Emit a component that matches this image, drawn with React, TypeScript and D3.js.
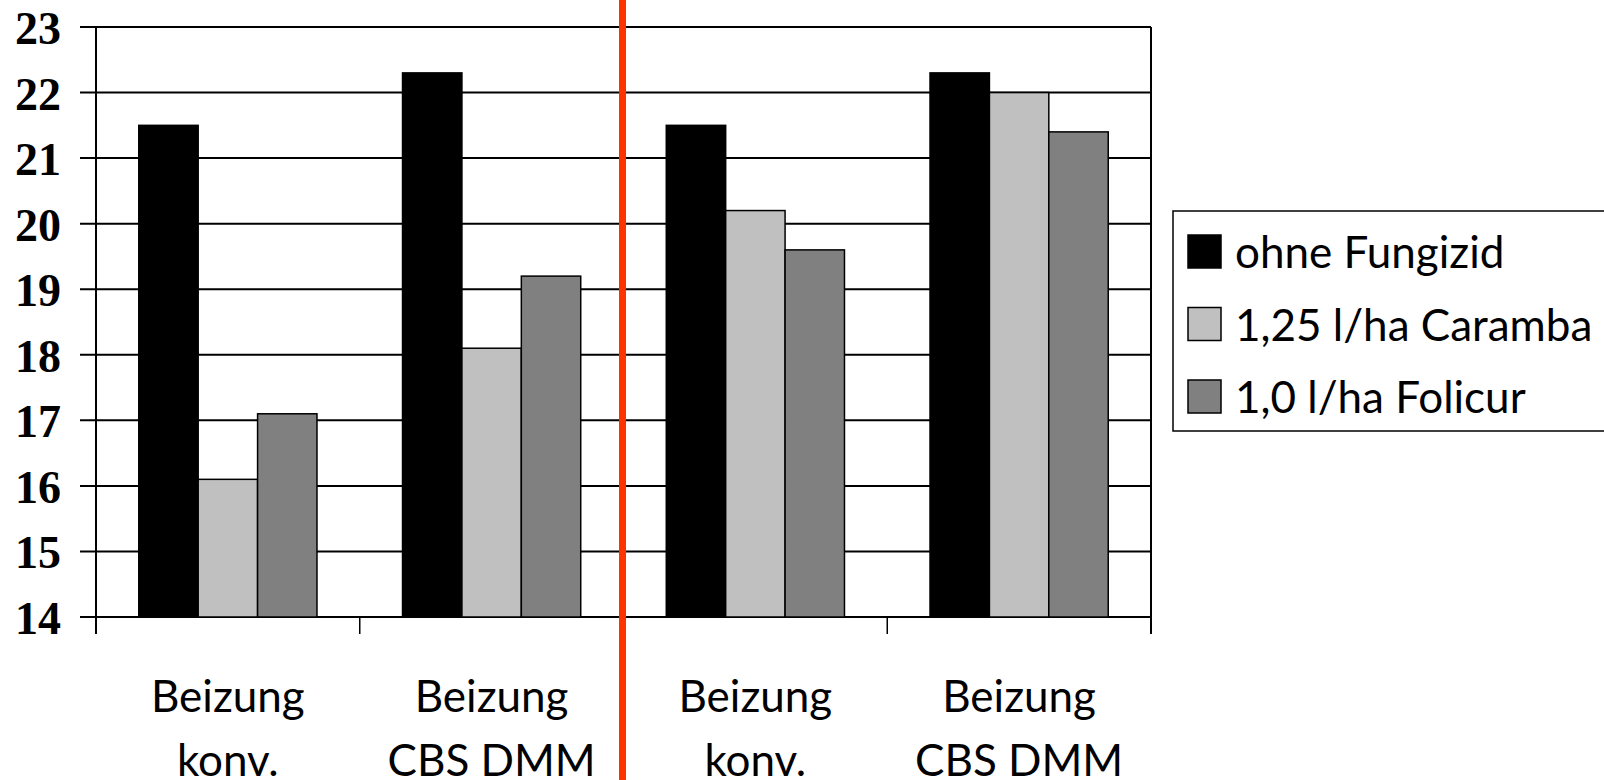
import React, { useEffect, useRef } from 'react'
import * as d3 from 'd3'

// categories, two text lines each
const groupLabels: string[][] = [
  ['Beizung', 'konv.'],
  ['Beizung', 'CBS DMM'],
  ['Beizung', 'konv.'],
  ['Beizung', 'CBS DMM'],
]
const seriesNames = ['ohne Fungizid', '1,25 l/ha Caramba', '1,0 l/ha Folicur']
const seriesColors = ['#000000', '#c0c0c0', '#808080']

const ohneFungizid = [21.5, 22.3, 21.5, 22.3]
const caramba = [16.1, 18.1, 20.2, 22.0]
const folicur = [17.1, 19.2, 19.6, 21.4]
const seriesValues = [ohneFungizid, caramba, folicur]

const yTicks = [14, 15, 16, 17, 18, 19, 20, 21, 22, 23]

const W = 1604
const H = 780
const sans = 'Lato, "Open Sans", sans-serif'

const App = () => {
  const svgRef = useRef<SVGSVGElement>(null)

  useEffect(() => {
    const svg = d3.select(svgRef.current)
    svg.selectAll('*').remove()

    const left = 96
    const right = 1151
    const top = 27
    const bottom = 617

    const y = d3.scaleLinear().domain([14, 23]).range([bottom, top])
    const x0 = d3
      .scaleBand<number>()
      .domain(groupLabels.map((_, i) => i))
      .range([left, right])
    const x1 = d3
      .scaleBand<number>()
      .domain(seriesNames.map((_, i) => i))
      .range([0, x0.bandwidth()])
      .paddingOuter(0.72)

    // gridlines
    svg
      .append('g')
      .selectAll('line')
      .data(yTicks)
      .join('line')
      .attr('x1', left - 16)
      .attr('x2', right)
      .attr('y1', d => y(d))
      .attr('y2', d => y(d))
      .attr('stroke', '#000')
      .attr('stroke-width', 2)

    // y labels
    svg
      .append('g')
      .selectAll('text')
      .data(yTicks)
      .join('text')
      .attr('x', 61)
      .attr('y', d => y(d) + 17)
      .attr('text-anchor', 'end')
      .attr('font-family', '"Liberation Serif", "Times New Roman", serif')
      .attr('font-weight', 'bold')
      .attr('font-size', 46)
      .text(d => d)

    // bars
    const groups = svg
      .append('g')
      .selectAll('g')
      .data(groupLabels.map((_, i) => i))
      .join('g')
      .attr('transform', d => `translate(${x0(d)},0)`)

    groups
      .selectAll('rect')
      .data(gi => seriesValues.map((vals, si) => ({ si, v: vals[gi] })))
      .join('rect')
      .attr('x', d => x1(d.si)!)
      .attr('width', x1.bandwidth())
      .attr('y', d => y(d.v))
      .attr('height', d => y(14) - y(d.v))
      .attr('fill', d => seriesColors[d.si])
      .attr('stroke', '#000')
      .attr('stroke-width', 1.5)

    // axes frame
    svg
      .append('line')
      .attr('x1', left)
      .attr('x2', left)
      .attr('y1', top)
      .attr('y2', bottom + 17)
      .attr('stroke', '#000')
      .attr('stroke-width', 2)
    svg
      .append('line')
      .attr('x1', right)
      .attr('x2', right)
      .attr('y1', top)
      .attr('y2', bottom + 17)
      .attr('stroke', '#000')
      .attr('stroke-width', 2)
    svg
      .append('g')
      .selectAll('line')
      .data(groupLabels.map((_, i) => i).slice(1))
      .join('line')
      .attr('x1', d => x0(d)!)
      .attr('x2', d => x0(d)!)
      .attr('y1', bottom)
      .attr('y2', bottom + 17)
      .attr('stroke', '#000')
      .attr('stroke-width', 1.5)

    // category labels
    const lab = svg
      .append('g')
      .selectAll('text')
      .data(groupLabels.map((l, i) => ({ l, i })))
      .join('text')
      .attr('text-anchor', 'middle')
      .attr('font-family', sans)
      .attr('font-size', 44)
      .attr('fill', '#000')
    lab
      .selectAll('tspan')
      .data(d => d.l.map(t => ({ t, i: d.i })))
      .join('tspan')
      .attr('x', d => x0(d.i)! + x0.bandwidth() / 2)
      .attr('y', (d, k) => 712 + k * 64)
      .text(d => d.t)

    // red separator
    const sepX = x0(2)! - 1
    svg
      .append('line')
      .attr('x1', sepX)
      .attr('x2', sepX)
      .attr('y1', 0)
      .attr('y2', H)
      .attr('stroke', '#ff3300')
      .attr('stroke-width', 7)

    // legend
    const lg = svg.append('g')
    lg.append('rect')
      .attr('x', 1173)
      .attr('y', 211)
      .attr('width', 460)
      .attr('height', 220)
      .attr('fill', '#fff')
      .attr('stroke', '#000')
      .attr('stroke-width', 1.5)
    const items = lg
      .selectAll('g')
      .data(seriesNames.map((n, i) => ({ n, i })))
      .join('g')
      .attr('transform', d => `translate(1188,${268 + d.i * 72.5})`)
    items
      .append('rect')
      .attr('x', 0)
      .attr('y', -33)
      .attr('width', 33)
      .attr('height', 33)
      .attr('fill', d => seriesColors[d.i])
      .attr('stroke', '#000')
      .attr('stroke-width', 1.5)
    items
      .append('text')
      .attr('x', 47)
      .attr('y', 0)
      .attr('font-family', sans)
      .attr('font-size', 44)
      .text(d => d.n)
  }, [])

  return (
    <svg
      ref={svgRef}
      width={W}
      height={H}
      style={{ position: 'absolute', left: 0, top: 0, background: '#fff' }}
    />
  )
}

export default App
